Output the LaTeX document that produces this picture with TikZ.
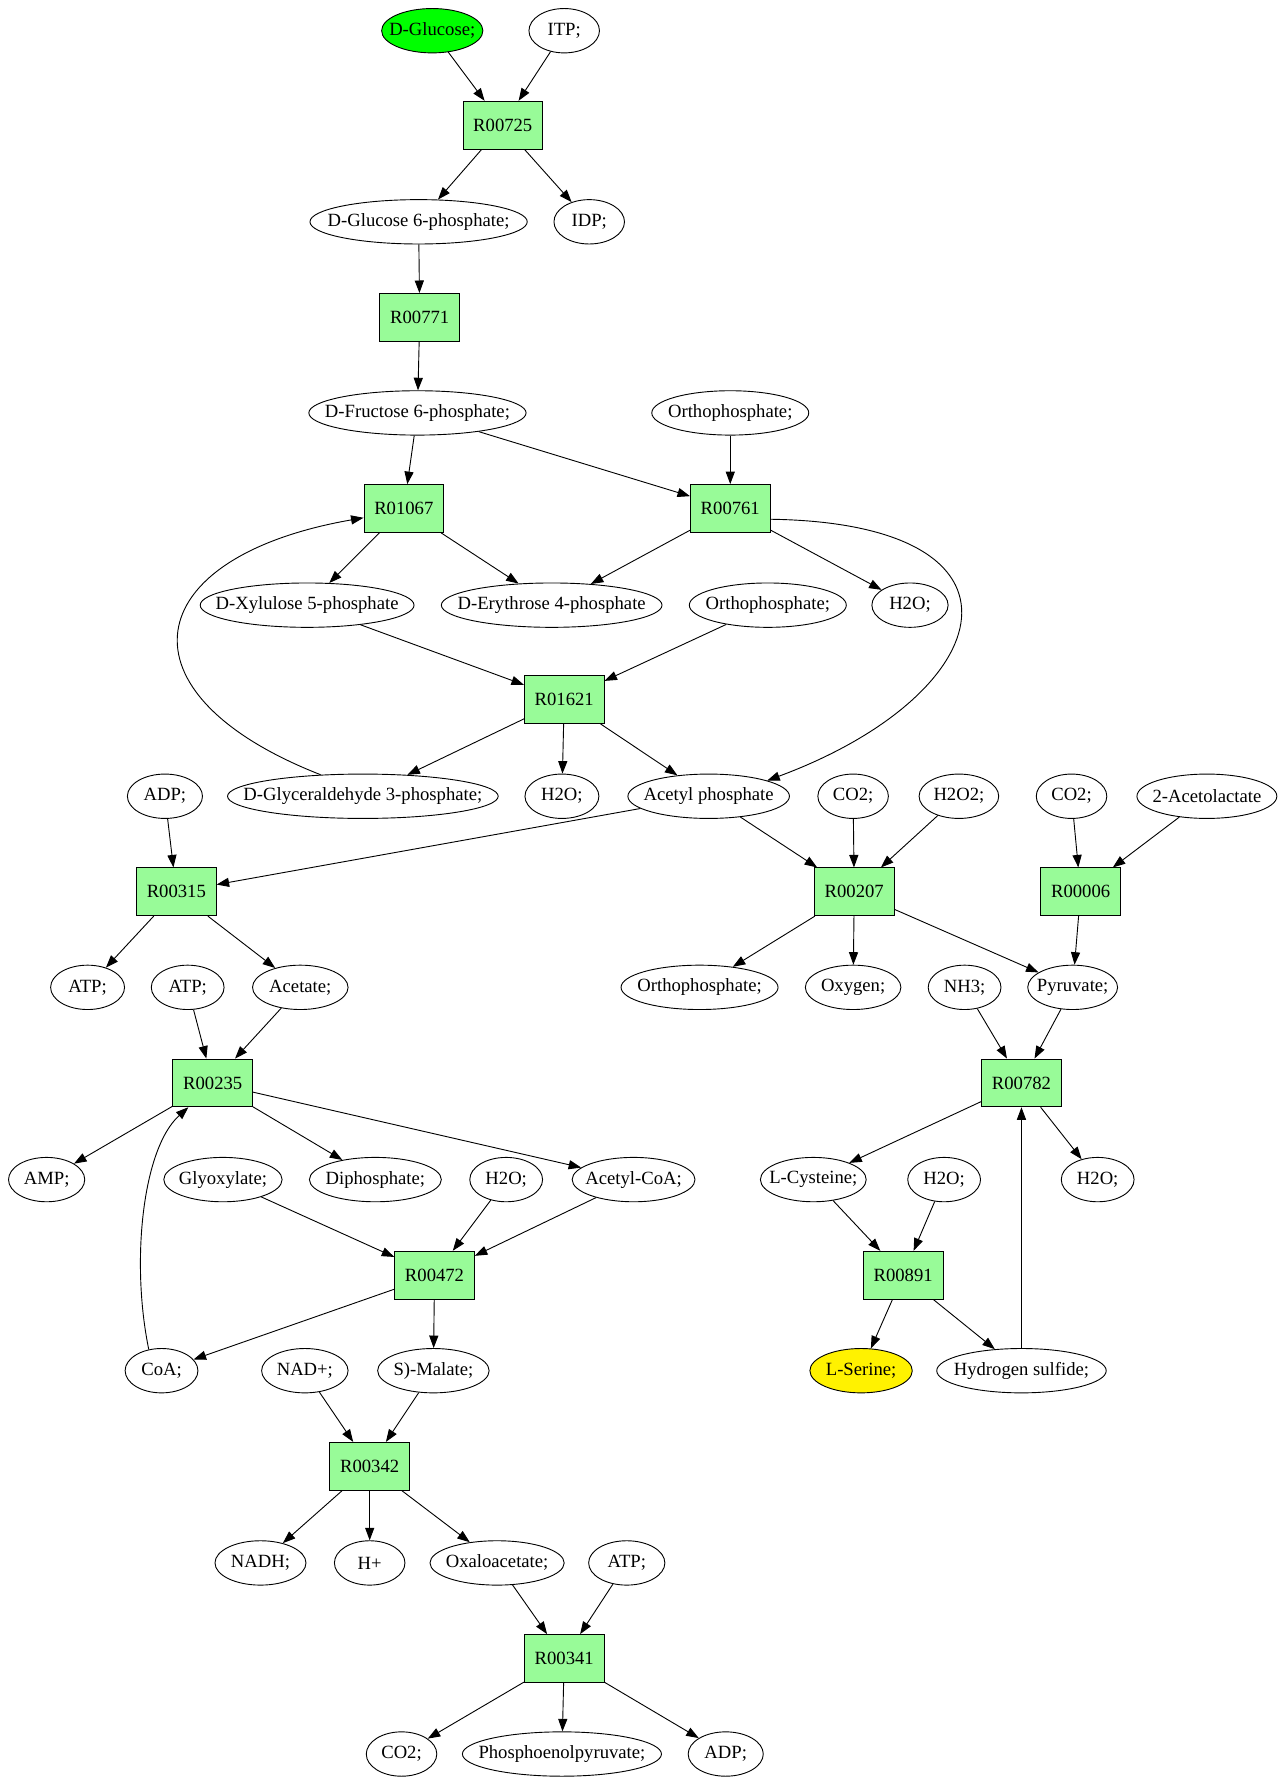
\documentclass[tikz,border=0pt]{standalone}
\usepackage{fontspec}
\setmainfont{Liberation Serif}
\usetikzlibrary{shapes.geometric,arrows.meta}
\definecolor{rxngreen}{RGB}{152,251,152}

\begin{document}
\begin{tikzpicture}[x=1pt,y=-1pt,line width=0.8pt,
    met/.style={draw, ellipse, inner xsep=-40pt, inner ysep=0pt, minimum height=39pt, minimum width=64pt, font=\fontsize{16.4}{19}\selectfont},
    rxn/.style={draw, rectangle, fill=rxngreen, minimum width=70pt, minimum height=42pt, font=\fontsize{16.4}{19}\selectfont},
    link/.style={-{Triangle[length=11pt,width=8pt]}}]
  \useasboundingbox (0,0) rectangle (1130,1571);

  % Reactions
  \foreach \n/\x/\y in {r00725/442/110, r00771/369/279, r01067/355/447, r00761/642/447,
      r01621/496/615, r00315/155/784, r00207/751/784, r00006/950/784, r00235/187/952,
      r00782/898/952, r00472/382/1121, r00891/794/1121, r00342/325/1289, r00341/496/1458} {
    \node[rxn] (\n) at (\x,\y) {\MakeUppercase{\n}};
  }

  % Compounds
  \node[met, fill=green, minimum width=89pt] (glc) at (380,27) {D-Glucose;};
  \node[met, minimum width=62pt] (itp) at (496,27) {ITP;};
  \node[met, minimum width=191pt] (g6p) at (368,195) {D-Glucose 6-phosphate;};
  \node[met, minimum width=62pt] (idp) at (518,195) {IDP;};
  \node[met, minimum width=191pt] (f6p) at (367,363) {D-Fructose 6-phosphate;};
  \node[met, minimum width=138pt] (pia) at (642,363) {Orthophosphate;};
  \node[met, minimum width=188pt] (xu5p) at (270,532) {D-Xylulose 5-phosphate};
  \node[met, minimum width=194pt] (e4p) at (485,532) {D-Erythrose 4-phosphate};
  \node[met, minimum width=138pt] (pib) at (675,532) {Orthophosphate;};
  \node[met, minimum width=67pt] (h2oa) at (800,532) {H2O;};
  \node[met, minimum width=66pt] (adpa) at (145,700) {ADP;};
  \node[met, minimum width=238pt] (gap) at (319,700) {D-Glyceraldehyde 3-phosphate;};
  \node[met, minimum width=65pt] (h2ob) at (494,700) {H2O;};
  \node[met, minimum width=142pt] (acp) at (623,700) {Acetyl phosphate};
  \node[met, minimum width=62pt] (co2a) at (750,700) {CO2;};
  \node[met, minimum width=70pt] (h2o2) at (843,700) {H2O2;};
  \node[met, minimum width=62pt] (co2b) at (942,700) {CO2;};
  \node[met, minimum width=123pt] (acl) at (1061,700) {2-Acetolactate};
  \node[met, minimum width=65pt] (atpa) at (77,868) {ATP;};
  \node[met, minimum width=64pt] (atpb) at (165,868) {ATP;};
  \node[met, minimum width=84pt] (ac) at (264,868) {Acetate;};
  \node[met, minimum width=138pt] (pic) at (615,868) {Orthophosphate;};
  \node[met, minimum width=84pt] (oxy) at (750,868) {Oxygen;};
  \node[met, minimum width=64pt] (nh3) at (848,868) {NH3;};
  \node[met, minimum width=79pt] (pyr) at (943,868) {Pyruvate;};
  \node[met, minimum width=67pt] (amp) at (41,1037) {AMP;};
  \node[met, minimum width=104pt] (glx) at (196,1037) {Glyoxylate;};
  \node[met, minimum width=116pt] (ppi) at (330,1037) {Diphosphate;};
  \node[met, minimum width=64pt] (h2oc) at (445,1037) {H2O;};
  \node[met, minimum width=108pt] (accoa) at (557,1037) {Acetyl-CoA;};
  \node[met, minimum width=93pt] (cys) at (715,1037) {L-Cysteine;};
  \node[met, minimum width=64pt] (h2od) at (830,1037) {H2O;};
  \node[met, minimum width=64pt] (h2oe) at (965,1037) {H2O;};
  \node[met, minimum width=64pt] (coa) at (142,1205) {CoA;};
  \node[met, minimum width=76pt] (nad) at (268,1205) {NAD+;};
  \node[met, minimum width=98pt] (mal) at (381,1205) {S)-Malate;};
  \node[met, fill=yellow, minimum width=90pt] (ser) at (757,1205) {L-Serine;};
  \node[met, minimum width=149pt] (h2s) at (898,1205) {Hydrogen sulfide;};
  \node[met, minimum width=80pt] (nadh) at (229,1374) {NADH;};
  \node[met, minimum width=62pt] (hplus) at (325,1374) {H+};
  \node[met, minimum width=118pt] (oaa) at (437,1374) {Oxaloacetate;};
  \node[met, minimum width=67pt] (atpc) at (551,1374) {ATP;};
  \node[met, minimum width=62pt] (co2c) at (353,1542) {CO2;};
  \node[met, minimum width=175pt] (pep) at (494,1542) {Phosphoenolpyruvate;};
  \node[met, minimum width=66pt] (adpb) at (638,1542) {ADP;};

  % Straight connectors
  \foreach \a/\b in {glc/r00725, itp/r00725, r00725/g6p, r00725/idp, g6p/r00771, r00771/f6p,
      f6p/r01067, f6p/r00761, pia/r00761, r01067/xu5p, r01067/e4p, r00761/e4p, r00761/h2oa,
      xu5p/r01621, pib/r01621, r01621/gap, r01621/h2ob, r01621/acp,
      adpa/r00315, acp/r00315, acp/r00207, co2a/r00207, h2o2/r00207, co2b/r00006, acl/r00006,
      r00315/atpa, r00315/ac, r00207/pic, r00207/oxy, r00207/pyr, r00006/pyr,
      atpb/r00235, ac/r00235, nh3/r00782, pyr/r00782,
      r00235/amp, r00235/ppi, r00235/accoa, r00782/cys, r00782/h2oe,
      glx/r00472, h2oc/r00472, accoa/r00472, cys/r00891, h2od/r00891,
      r00472/coa, r00472/mal, r00891/ser, r00891/h2s, h2s/r00782,
      nad/r00342, mal/r00342, r00342/nadh, r00342/hplus, r00342/oaa,
      oaa/r00341, atpc/r00341, r00341/co2c, r00341/pep, r00341/adpb} {
    \draw[link] (\a) -- (\b);
  }

  % Curved connectors
  \draw[link] (r00761.-15) .. controls (920,460) and (880,610) .. (acp.15);
  \draw[link] (gap.153) .. controls (100,610) and (120,490) .. (r01067.193);
  \draw[link] (coa.121) .. controls (115,1110) and (125,1010) .. (r00235.225);
\end{tikzpicture}
\end{document}
